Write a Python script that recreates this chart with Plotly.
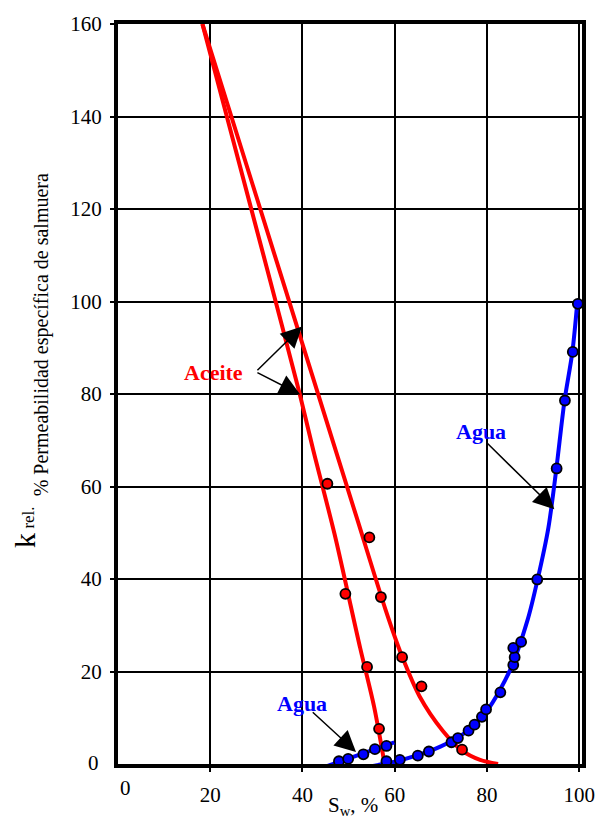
import plotly.graph_objects as go

# Measured relative permeability points (Sw %, k_rel %)
oil_sw = [45.4, 49.3, 54.5, 57.0, 54.0, 56.6, 61.6, 65.8, 74.6]
oil_k = [60.6, 36.8, 49.0, 36.1, 21.0, 7.6, 23.1, 16.8, 3.1]

water_sw = [47.9, 49.9, 53.2, 55.7, 58.2, 58.2, 61.1, 65.0, 67.4, 72.3, 73.7, 76.0,
            77.3, 78.9, 79.8, 82.9, 85.7, 86.0, 85.7, 87.4, 90.9, 95.1, 96.9, 98.6, 99.7]
water_k = [0.6, 1.1, 2.1, 3.2, 3.9, 0.6, 0.9, 1.8, 2.7, 4.7, 5.6, 7.2,
           8.5, 10.2, 11.8, 15.5, 21.4, 23.1, 25.1, 26.4, 39.9, 63.9, 78.6, 89.1, 99.5]

# Hand-drawn fitted curves
oil_a_sw = [18.3, 33.0, 39.4, 42.3, 47.0, 52.5, 55.5, 57.8]
oil_a_k = [160.0, 104.5, 80.0, 68.0, 49.5, 25.1, 12.5, 0.0]

oil_b_sw = [18.3, 30.0, 42.0, 52.0, 58.0, 61.5, 65.4, 70.4, 74.6, 78.5, 82.4]
oil_b_k = [160.0, 122.7, 84.4, 52.5, 33.4, 23.5, 14.6, 7.2, 2.9, 0.9, 0.0]

water_a_sw = [45.2, 59.9]
water_a_k = [-0.5, 4.7]

water_b_sw = [55.3, 60.0, 65.0, 70.0, 75.0, 80.0, 85.0, 88.9, 91.0, 93.3, 95.0, 96.8, 98.5, 99.6]
water_b_k = [-0.4, 0.5, 1.9, 3.8, 6.6, 11.5, 20.3, 31.5, 40.0, 51.0, 63.5, 78.5, 89.0, 100.0]

x_ticks = [20, 40, 60, 80, 100]
y_ticks = [20, 40, 60, 80, 100, 120, 140, 160]

RED = "#ff0000"
BLUE = "#0000ff"
SERIF = "Liberation Serif"

# plot area geometry (pixels)
W, H = 607, 819
L, R, T, B = 118, 588, 22, 766


def px_x(px):
    return (px - L) / (R - L)


def px_y(py):
    return (B - py) / (B - T)


fig = go.Figure()

for xs, ys, col in [(oil_a_sw, oil_a_k, RED), (oil_b_sw, oil_b_k, RED),
                    (water_a_sw, water_a_k, BLUE), (water_b_sw, water_b_k, BLUE)]:
    fig.add_trace(go.Scatter(x=xs, y=ys, mode="lines",
                             line=dict(color=col, width=4, shape="spline", smoothing=0.8),
                             showlegend=False, hoverinfo="skip"))

fig.add_trace(go.Scatter(x=oil_sw, y=oil_k, mode="markers", cliponaxis=False,
                         marker=dict(color=RED, size=10, line=dict(color="black", width=1.8)),
                         showlegend=False))
fig.add_trace(go.Scatter(x=water_sw, y=water_k, mode="markers", cliponaxis=False,
                         marker=dict(color=BLUE, size=10, line=dict(color="black", width=1.8)),
                         showlegend=False))

annotations = []

# curve labels
annotations.append(dict(x=20.6, y=84.7, xref="x", yref="y", text="<b>Aceite</b>", showarrow=False,
                        font=dict(family=SERIF, size=22, color=RED)))
annotations.append(dict(x=78.8, y=72.0, xref="x", yref="y", text="<b>Agua</b>", showarrow=False,
                        font=dict(family=SERIF, size=22, color=BLUE)))
annotations.append(dict(x=40.0, y=13.1, xref="x", yref="y", text="<b>Agua</b>", showarrow=False,
                        font=dict(family=SERIF, size=22, color=BLUE)))

# arrows from labels to curves
for (tx, ty), (hx, hy) in [((29.9, 84.8), (39.9, 94.6)),
                           ((29.9, 84.8), (39.5, 79.9)),
                           ((79.8, 69.6), (94.6, 55.1)),
                           ((41.9, 11.5), (51.6, 2.6))]:
    annotations.append(dict(x=hx, y=hy, ax=tx, ay=ty, xref="x", yref="y", axref="x", ayref="y",
                            text="", showarrow=True, arrowhead=2, arrowsize=2.8, arrowwidth=1.5,
                            arrowcolor="black", standoff=0))

# zero tick labels set off from the corner
annotations.append(dict(x=px_x(126), y=px_y(790), xref="paper", yref="paper", text="0",
                        showarrow=False, font=dict(family=SERIF, size=21, color="black"),
                        xanchor="center", yanchor="middle"))
annotations.append(dict(x=px_x(101), y=px_y(765), xref="paper", yref="paper", text="0",
                        showarrow=False, font=dict(family=SERIF, size=21, color="black"),
                        xanchor="right", yanchor="middle"))

# y-axis title
annotations.append(dict(x=px_x(23), y=px_y(541.5), xref="paper", yref="paper", text="k",
                        showarrow=False, textangle=-90, xanchor="center", yanchor="middle",
                        font=dict(family=SERIF, size=30, color="black")))
annotations.append(dict(x=px_x(27.6), y=px_y(518.5), xref="paper", yref="paper", text="rel.",
                        showarrow=False, textangle=-90, xanchor="center", yanchor="middle",
                        font=dict(family=SERIF, size=17, color="black")))
annotations.append(dict(x=px_x(40), y=px_y(334), xref="paper", yref="paper",
                        text="% Permeabilidad específica de salmuera",
                        showarrow=False, textangle=-90, xanchor="center", yanchor="middle",
                        font=dict(family=SERIF, size=20, color="black")))

# x-axis title
annotations.append(dict(x=px_x(356), y=px_y(808), xref="paper", yref="paper",
                        text="S<sub>w</sub>, %", showarrow=False,
                        xanchor="center", yanchor="middle",
                        font=dict(family=SERIF, size=21, color="black")))

axis_common = dict(showline=True, linewidth=4, linecolor="black", mirror=True,
                   showgrid=True, gridcolor="black", gridwidth=2, zeroline=False,
                   ticks="outside", ticklen=4, tickwidth=1.5, tickcolor="black",
                   tickfont=dict(family=SERIF, size=21, color="black"))

fig.update_layout(
    width=W, height=H,
    margin=dict(l=L, r=W - R, t=T, b=H - B, pad=0),
    paper_bgcolor="white", plot_bgcolor="white",
    xaxis=dict(range=[0, 100.6], tickvals=x_ticks, ticklabelstandoff=5, **axis_common),
    yaxis=dict(range=[0, 160], tickvals=y_ticks, ticklabelstandoff=4, **axis_common),
    annotations=annotations,
    showlegend=False,
)

fig.write_html("out.html", config={"displayModeBar": False})
